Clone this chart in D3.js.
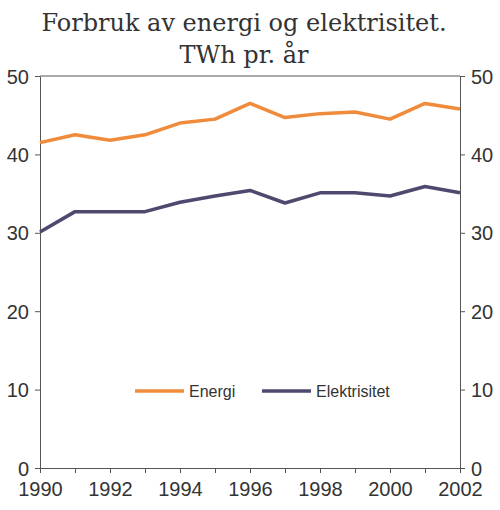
<!DOCTYPE html>
<html>
<head>
<meta charset="utf-8">
<script src="https://cdn.jsdelivr.net/npm/d3@7"></script>
<style>
  body { margin: 0; background: #fff; }
  svg { display: block; }
</style>
</head>
<body>
<div id="chart"></div>
<script>
// data
const years = [1990, 1991, 1992, 1993, 1994, 1995, 1996, 1997, 1998, 1999, 2000, 2001, 2002];
const energi = [41.5, 42.5, 41.8, 42.5, 44.0, 44.5, 46.5, 44.7, 45.2, 45.4, 44.5, 46.5, 45.8];
const elektrisitet = [30.1, 32.7, 32.7, 32.7, 33.9, 34.7, 35.4, 33.8, 35.1, 35.1, 34.7, 35.9, 35.1];
const yTicks = [0, 10, 20, 30, 40, 50];
const xTickLabels = [1990, 1992, 1994, 1996, 1998, 2000, 2002];
const seriesNames = ["Energi", "Elektrisitet"];
const seriesColors = ["#ef8b3b", "#4e4a6f"];

const width = 500, height = 510;
const margin = {top: 76, right: 40, bottom: 42, left: 40};
const axisColor = "#555";

const svg = d3.select("#chart").append("svg")
  .attr("width", width)
  .attr("height", height);

// title
const title = svg.append("text")
  .attr("text-anchor", "middle")
  .style("font-family", "'DejaVu Serif', serif")
  .style("font-size", "24px")
  .style("fill", "#333");
title.append("tspan").attr("x", 244).attr("y", 31).text("Forbruk av energi og elektrisitet.");
title.append("tspan").attr("x", 244).attr("y", 63).text("TWh pr. år");

// scales
const x = d3.scaleLinear()
  .domain([1990, 2002])
  .range([margin.left, width - margin.right]);

const y = d3.scaleLinear()
  .domain([0, 50])
  .range([height - margin.bottom, margin.top]);

// frame top line
svg.append("line")
  .attr("x1", x(1990)).attr("x2", x(2002))
  .attr("y1", y(50)).attr("y2", y(50))
  .attr("stroke", axisColor).attr("stroke-width", 1);

// left axis
const yLeft = svg.append("g")
  .attr("transform", "translate(" + margin.left + ",0)")
  .call(d3.axisLeft(y).tickValues(yTicks).tickSize(5).tickPadding(6).tickSizeOuter(0));

// right axis
const yRight = svg.append("g")
  .attr("transform", "translate(" + (width - margin.right) + ",0)")
  .call(d3.axisRight(y).tickValues(yTicks).tickSize(5).tickPadding(6).tickSizeOuter(0));

// x axis, tick every year, label every other
const xAxis = svg.append("g")
  .attr("transform", "translate(0," + y(0) + ")")
  .call(d3.axisBottom(x).tickValues(years).tickSize(5).tickPadding(9).tickSizeOuter(0)
    .tickFormat(d => xTickLabels.includes(d) ? d : ""));

[yLeft, yRight, xAxis].forEach(g => {
  g.select(".domain").attr("stroke", axisColor);
  g.selectAll(".tick line").attr("stroke", axisColor);
  g.selectAll(".tick text")
    .style("font-family", "'Liberation Sans', Arial, sans-serif")
    .style("font-size", "20px")
    .style("fill", "#333");
});
yLeft.selectAll(".tick text").attr("dy", "0.35em");
yRight.selectAll(".tick text").attr("dy", "0.35em");

// lines
const line = d3.line()
  .x((d, i) => x(years[i]))
  .y(d => y(d));

[energi, elektrisitet].forEach((s, k) => {
  svg.append("path")
    .datum(s)
    .attr("d", line)
    .style("fill", "none")
    .style("stroke", seriesColors[k])
    .style("stroke-width", 3.5)
    .style("stroke-linejoin", "round");
});

// legend
const legendX = [135, 262];
const legendY = 391;
seriesNames.forEach((name, k) => {
  svg.append("line")
    .attr("x1", legendX[k]).attr("x2", legendX[k] + 49)
    .attr("y1", legendY).attr("y2", legendY)
    .style("stroke", seriesColors[k])
    .style("stroke-width", 3.5);
  svg.append("text")
    .attr("x", legendX[k] + 54)
    .attr("y", legendY)
    .attr("dy", "0.35em")
    .style("font-family", "'Liberation Sans', Arial, sans-serif")
    .style("font-size", "16px")
    .style("fill", "#333")
    .text(name);
});
</script>
</body>
</html>
